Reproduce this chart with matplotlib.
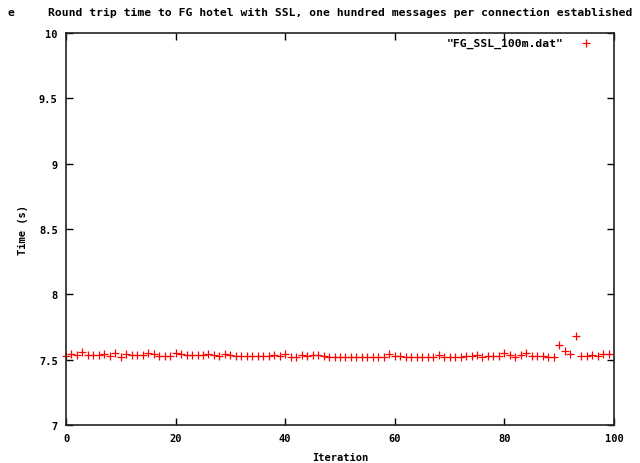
import matplotlib
matplotlib.use('Agg')
import matplotlib.pyplot as plt
import numpy as np

# --- data ---
iterations = list(range(100))
times = [
    7.531, 7.546, 7.538, 7.559, 7.538, 7.538, 7.538, 7.546, 7.526, 7.551,
    7.518, 7.546, 7.538, 7.538, 7.538, 7.551, 7.546, 7.531, 7.531, 7.531,
    7.551, 7.546, 7.538, 7.538, 7.533, 7.538, 7.546, 7.533, 7.531, 7.546,
    7.533, 7.531, 7.531, 7.531, 7.531, 7.531, 7.531, 7.531, 7.538, 7.531,
    7.546, 7.518, 7.520, 7.538, 7.531, 7.538, 7.533, 7.531, 7.518, 7.518,
    7.518, 7.518, 7.518, 7.518, 7.523, 7.523, 7.523, 7.523, 7.523, 7.540,
    7.530, 7.530, 7.523, 7.523, 7.523, 7.523, 7.523, 7.523, 7.535, 7.523,
    7.523, 7.523, 7.523, 7.525, 7.525, 7.533, 7.518, 7.525, 7.531, 7.525,
    7.551, 7.533, 7.520, 7.533, 7.551, 7.525, 7.525, 7.525, 7.520, 7.520,
    7.610, 7.564, 7.544, 7.680, 7.525, 7.525, 7.533, 7.525, 7.544, 7.544,
]
x_ticks = [0, 20, 40, 60, 80, 100]
y_ticks = [7, 7.5, 8, 8.5, 9, 9.5, 10]
y_tick_labels = ['7', '7.5', '8', '8.5', '9', '9.5', '10']

FONT = dict(family='DejaVu Sans Mono', weight='bold', size=7.5)
BIG = dict(FONT, size=8.2)

fig = plt.figure(figsize=(6.4, 4.64), dpi=100)
ax = fig.add_axes([66 / 640, 1 - 426 / 464, 548 / 640, 392 / 464])

ax.plot(iterations, times, linestyle='none', marker='+', color='#ff0000',
        markersize=6, markeredgewidth=0.9, clip_on=False)

ax.set_xlim(0, 100)
ax.set_ylim(7, 10)
ax.set_xticks(x_ticks)
ax.set_xticklabels([str(v) for v in x_ticks], **FONT)
ax.set_yticks(y_ticks)
ax.set_yticklabels(y_tick_labels, **FONT)
ax.tick_params(direction='in', length=5, width=1, top=True, right=True, pad=6)
for s in ax.spines.values():
    s.set_linewidth(1.2)
    s.set_color('#222222')

ax.set_xlabel('Iteration', labelpad=6, **FONT)
ax.set_ylabel('Time (s)', labelpad=8, **FONT)

# title (cut off on the left in the original)
fig.text(8 / 640, 1 - 13 / 464, 'e', ha='left', va='center', **BIG)
fig.text(48 / 640, 1 - 13 / 464,
         'Round trip time to FG hotel with SSL, one hundred messages per connection established',
         ha='left', va='center', **BIG)

# gnuplot style key
ax.text(0.908, 0.975, '"FG_SSL_100m.dat"', transform=ax.transAxes,
        ha='right', va='center', **BIG)
ax.plot([0.948], [0.975], transform=ax.transAxes, marker='+', color='#ff0000',
        markersize=6, markeredgewidth=0.9, linestyle='none')

fig.savefig('out.png', dpi=100)
